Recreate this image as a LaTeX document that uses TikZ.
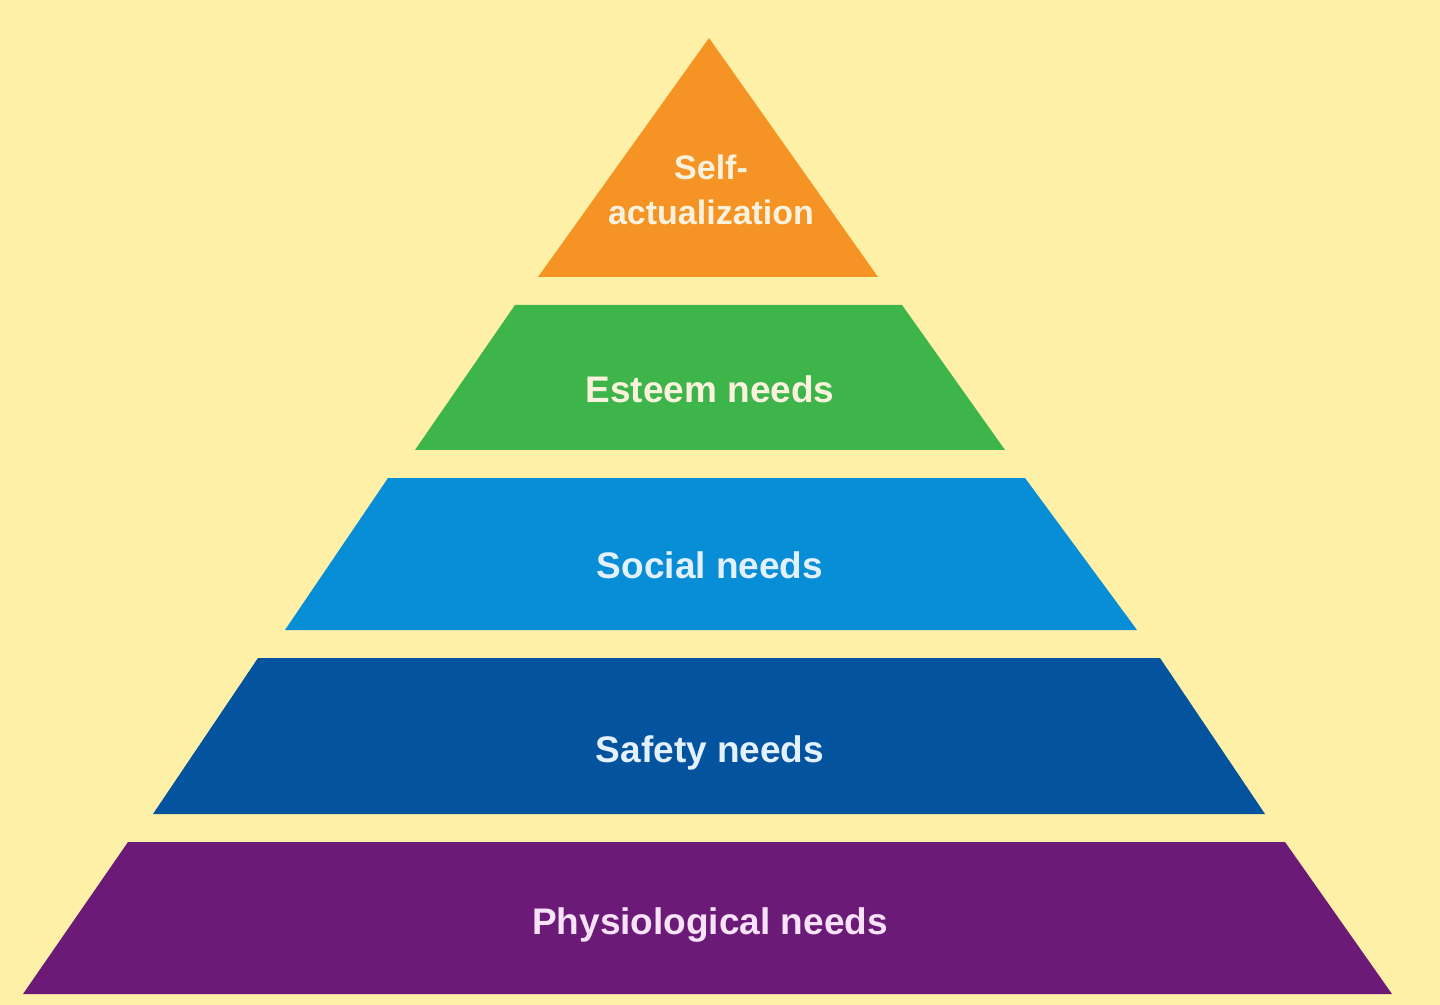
\documentclass[tikz,border=0pt]{standalone}
\usepackage{fontspec}
\usepackage{tikz}
\setmainfont{Liberation Sans}
\usetikzlibrary{positioning}
\definecolor{bgyellow}{HTML}{FFF0A8}
\definecolor{selfcol}{HTML}{F59324}
\definecolor{esteemcol}{HTML}{3DB54A}
\definecolor{socialcol}{HTML}{088ED6}
\definecolor{safetycol}{HTML}{03539F}
\definecolor{physiocol}{HTML}{6B1B77}
\definecolor{warmtext}{HTML}{FAF2DC}
\definecolor{bluetext}{HTML}{E2F0FF}
\definecolor{pinktext}{HTML}{F8E2F8}
\tikzset{level/.style={font=\bfseries\fontsize{18.5}{22}\selectfont,anchor=base}}

\begin{document}
\begin{tikzpicture}[x=0.5pt,y=-0.5pt]
                \fill[bgyellow] (0,0) rectangle (1440,1005);
                \fill[selfcol] (709,38) -- (878,277) -- (538,277) -- cycle;
                \fill[esteemcol] (515,305) -- (902,305) -- (1005,450) -- (415,450) -- cycle;
                \fill[socialcol] (388,478) -- (1025,478) -- (1137,630) -- (285,630) -- cycle;
                \fill[safetycol] (258,658) -- (1160,658) -- (1265,814) -- (153,814) -- cycle;
                \fill[physiocol] (128,842) -- (1285,842) -- (1392,994) -- (23,994) -- cycle;
                \node[level,text=warmtext,anchor=center,align=center,
                    font=\bfseries\fontsize{17}{22.5}\selectfont] (self) at (711,190) {Self-\\actualization};
                \node[level,text=warmtext] (esteem) at (710,403) {Esteem needs};
                \node[level,text=bluetext] (social) at (710,578) {Social needs};
                \node[level,text=bluetext] (safety) at (710,762) {Safety needs};
                \node[level,text=pinktext] (physio) at (710,934) {Physiological needs};
            \end{tikzpicture}
\end{document}
